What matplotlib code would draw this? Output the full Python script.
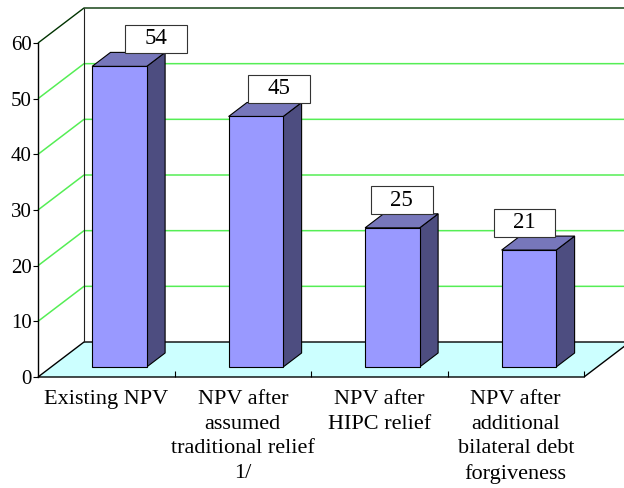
import matplotlib.pyplot as plt
from matplotlib.patches import Polygon

categories = ["Existing NPV",
              "NPV after\nassumed\ntraditional relief\n1/",
              "NPV after\nHIPC relief",
              "NPV after\nadditional\nbilateral debt\nforgiveness"]
values = [54, 45, 25, 21]
y_ticks = [0, 10, 20, 30, 40, 50, 60]

plt.rcParams['font.family'] = ['Liberation Serif', 'DejaVu Serif']

# oblique "3d": one unit of depth shifts a point right by DX and up by DY (data units)
DX = 46 / 136.5
DY = 35 / (334 / 60)
BAR_W = 0.4
BAR_Z0, BAR_Z1 = 0.286, 0.686


def proj(x, y, z):
    return (x + z * DX, y + z * DY)


fig = plt.figure(figsize=(6.24, 4.88), dpi=100)
ax = fig.add_axes([38 / 624, 111 / 488, 546 / 624, 334 / 488])
ax.patch.set_visible(False)

n = len(values)
x0, x1 = -0.5, n - 0.5
ymax = y_ticks[-1]
ax.set_xlim(x0, x1)
ax.set_ylim(0, ymax)


def poly(pts, **kw):
    ax.add_patch(Polygon([proj(*q) for q in pts], closed=True, clip_on=False, **kw))


def line(pts, **kw):
    xs, ys = zip(*[proj(*q) for q in pts])
    ax.plot(xs, ys, clip_on=False, solid_capstyle='butt', **kw)


# floor
poly([(x0, 0, 0), (x1, 0, 0), (x1, 0, 1), (x0, 0, 1)],
     facecolor='#ccffff', edgecolor='black', lw=1, zorder=1)

# gridlines on side wall + back wall
for v in y_ticks[1:-1]:
    line([(x0, v, 0), (x0, v, 1), (x1, v, 1)], color='#55ee55', lw=1.1, zorder=2)
line([(x0, ymax, 0), (x0, ymax, 1), (x1, ymax, 1)], color='#003300', lw=1, zorder=2)
line([(x0, 0, 1), (x0, ymax, 1)], color='#222222', lw=0.8, zorder=2)

# bars
for i, v in enumerate(values):
    l, r = i - BAR_W / 2, i + BAR_W / 2
    front = [(l, 0, BAR_Z0), (r, 0, BAR_Z0), (r, v, BAR_Z0), (l, v, BAR_Z0)]
    side = [(r, 0, BAR_Z0), (r, 0, BAR_Z1), (r, v, BAR_Z1), (r, v, BAR_Z0)]
    top = [(l, v, BAR_Z0), (r, v, BAR_Z0), (r, v, BAR_Z1), (l, v, BAR_Z1)]
    poly(side, facecolor='#4d4d80', edgecolor='black', lw=0.8, zorder=3)
    poly(top, facecolor='#7777bb', edgecolor='black', lw=0.8, zorder=3)
    poly(front, facecolor='#9999ff', edgecolor='black', lw=0.8, zorder=4)

    ax.annotate(str(v), xy=proj(i, v, BAR_Z1), xytext=(18.5 - 13.8 * i, 3),
                textcoords='offset pixels', ha='center', va='bottom', fontsize=16.5,
                annotation_clip=False, zorder=6,
                bbox=dict(boxstyle='square,pad=0.85', mutation_aspect=0.18,
                          fc='white', ec='#333333', lw=0.8))

# axes
for s in ['top', 'right', 'bottom']:
    ax.spines[s].set_visible(False)
ax.spines['left'].set_linewidth(1)
ax.set_yticks(y_ticks)
ax.tick_params(axis='y', direction='out', length=3.6, width=0.8, pad=1, labelsize=15)
ax.set_xticks(range(n))
ax.set_xticklabels(categories, fontsize=16, linespacing=1.4)
ax.tick_params(axis='x', which='major', length=0, pad=9.5)
ax.set_xticks([k + 0.5 for k in range(n)], minor=True)
ax.tick_params(axis='x', which='minor', direction='in', length=4.3, width=0.8)

fig.savefig('out.png', dpi=100)
